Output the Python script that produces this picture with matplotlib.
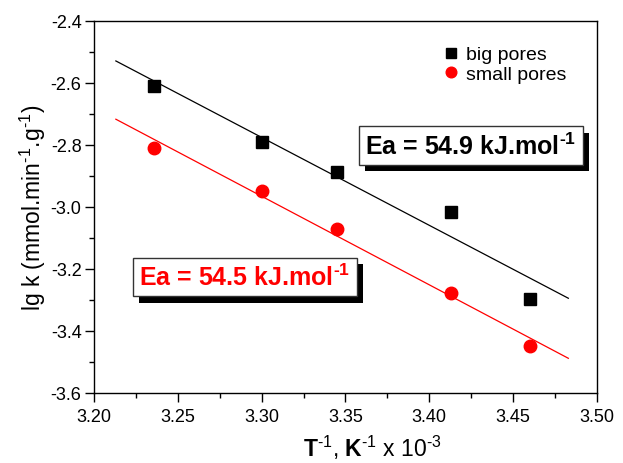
import numpy as np
import matplotlib
matplotlib.use("Agg")
import matplotlib.pyplot as plt
import matplotlib.patheffects as pe

plt.rcParams['font.family'] = ['Liberation Sans', 'DejaVu Sans']
plt.rcParams['mathtext.fontset'] = 'custom'
plt.rcParams['mathtext.rm'] = 'Liberation Sans'
plt.rcParams['mathtext.bf'] = 'Liberation Sans:bold'

# 1/T x 10^3 values
inv_t = [3.236, 3.300, 3.345, 3.413, 3.460]
big_pores = [-2.610, -2.790, -2.887, -3.016, -3.297]
small_pores = [-2.810, -2.948, -3.071, -3.277, -3.448]
fit_range = [3.213, 3.483]

HY = '\u2010'  # hyphen, so superscripts are not drawn as long minus signs

fig = plt.figure(figsize=(6.23, 4.64), dpi=100)
ax = fig.add_axes([0.151, 0.151, 0.807, 0.802])

xs = np.array(fit_range)
k1, b1 = np.polyfit(inv_t, big_pores, 1)
k2, b2 = np.polyfit(inv_t, small_pores, 1)
ax.plot(xs, k1 * xs + b1, color='black', lw=0.9)
ax.plot(xs, k2 * xs + b2, color='red', lw=0.9)

ax.plot(inv_t, big_pores, 's', color='black', ms=8, label='big pores')
ax.plot(inv_t, small_pores, 'o', color='red', ms=9, label='small pores')

ax.set_xlim(3.20, 3.50)
ax.set_ylim(-3.6, -2.4)
ax.set_xticks(np.arange(3.20, 3.501, 0.05))
ax.set_xticks(np.arange(3.225, 3.50, 0.05), minor=True)
ax.set_yticks(np.arange(-3.6, -2.39, 0.2))
ax.set_yticks(np.arange(-3.5, -2.4, 0.2), minor=True)
ax.xaxis.set_major_formatter(matplotlib.ticker.FormatStrFormatter('%.2f'))
ax.yaxis.set_major_formatter(matplotlib.ticker.FormatStrFormatter('%.1f'))
ax.tick_params(which='both', direction='out', top=False, right=False,
               labelsize=13, width=1)
ax.tick_params(which='major', length=6.5)
ax.tick_params(which='minor', length=3.5)
ax.tick_params(axis='x', which='major', pad=4.5)
ax.tick_params(axis='y', which='major', pad=2.5)
for s in ax.spines.values():
    s.set_linewidth(1)

ax.set_xlabel(r'$\mathbf{T}^{\mathrm{%s1}}$, $\mathbf{K}^{\mathrm{%s1}}$ x 10$^{\mathrm{%s3}}$'
              % (HY, HY, HY), fontsize=16.5)
ax.xaxis.set_label_coords(0.553, -0.107)
ax.set_ylabel(r'lg k (mmol.min$^{\mathrm{%s1}}$.g$^{\mathrm{%s1}}$)' % (HY, HY),
              fontsize=16.5, labelpad=2)

ax.legend(loc='upper right', bbox_to_anchor=(0.975, 0.98), frameon=False,
          fontsize=14, handletextpad=0.3, labelspacing=0.1, handlelength=1.0,
          markerscale=0.85)

shadow = [pe.SimplePatchShadow(offset=(4.5, -4.5), shadow_rgbFace='black', alpha=1),
          pe.Normal()]
t1 = ax.text(3.4248, -2.803, r'Ea = 54.9 kJ.mol$^{\mathbf{%s1}}$' % HY, fontsize=18,
             fontweight='bold', color='black', ha='center', va='center',
             bbox=dict(boxstyle='square,pad=0.25', facecolor='white',
                       edgecolor='#333333', lw=1))
t1.get_bbox_patch().set_path_effects(shadow)
t2 = ax.text(3.290, -3.226, r'Ea = 54.5 kJ.mol$^{\mathbf{%s1}}$' % HY, fontsize=18,
             fontweight='bold', color='red', ha='center', va='center',
             bbox=dict(boxstyle='square,pad=0.25', facecolor='white',
                       edgecolor='#333333', lw=1))
t2.get_bbox_patch().set_path_effects(shadow)

fig.savefig('out.png', dpi=100)
